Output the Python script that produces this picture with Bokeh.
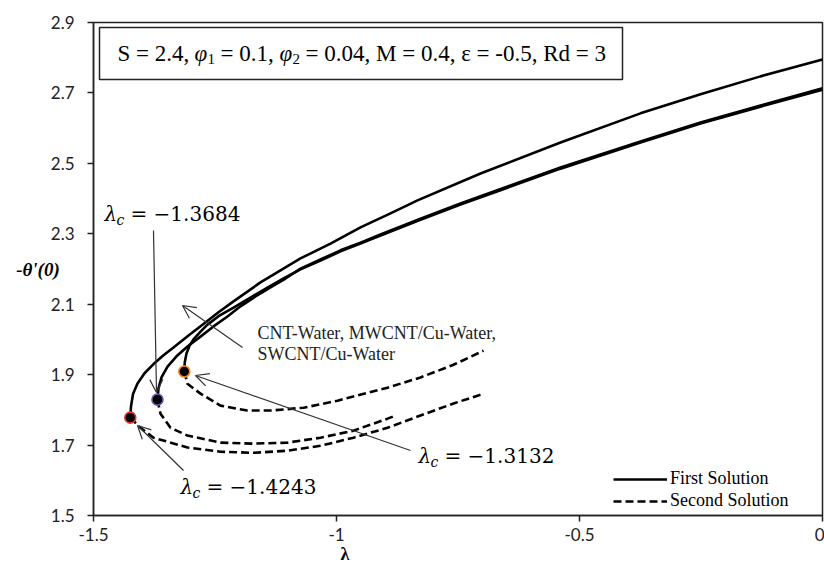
from bokeh.plotting import figure
from bokeh.models import (Range1d, FixedTicker, Label, Arrow, OpenHead,
                          BoxAnnotation, Legend, LegendItem, Title)
from bokeh.embed import file_html
from bokeh.resources import INLINE

# ---------------- data ----------------
x_ticks = [-1.5, -1.0, -0.5, 0.0]
x_tick_labels = ["-1.5", "-1", "-0.5", "0"]
y_ticks = [1.5, 1.7, 1.9, 2.1, 2.3, 2.5, 2.7, 2.9]
y_tick_labels = ["1.5", "1.7", "1.9", "2.1", "2.3", "2.5", "2.7", "2.9"]

# critical points
crit_lam = [-1.4243, -1.3684, -1.3132]
crit_val = [1.778, 1.829, 1.909]
crit_colors = ["#e63b2e", "#6b4fa0", "#f08a24"]

# first solutions (solid)
red_first_lam = [-1.4243, -1.4228, -1.4187, -1.4095, -1.3950, -1.3765, -1.3560,
                 -1.3354, -1.3045, -1.2737, -1.2428, -1.2119, -1.1564, -1.1152,
                 -1.0741, -1.0123, -0.9506, -0.8889, -0.8333, -0.7037, -0.5391,
                 -0.3745, -0.2510, -0.1276, 0.0]
red_first_val = [1.778, 1.810, 1.845, 1.875, 1.904, 1.930, 1.955, 1.977, 2.011,
                 2.044, 2.077, 2.108, 2.162, 2.196, 2.230, 2.272, 2.318, 2.358,
                 2.395, 2.471, 2.559, 2.642, 2.696, 2.747, 2.795]

purple_first_lam = [-1.3684, -1.3663, -1.3601, -1.3477, -1.3292, -1.3066, -1.2798,
                    -1.2531, -1.2243, -1.1975, -1.1667, -1.1358, -1.1049, -1.0741,
                    -1.0329, -0.9918, -0.9506, -0.9095, -0.8272, -0.7449, -0.6420,
                    -0.5391, -0.3745, -0.2510, -0.1276, 0.0]
purple_first_val = [1.829, 1.861, 1.892, 1.923, 1.952, 1.980, 2.008, 2.037, 2.065,
                    2.094, 2.122, 2.148, 2.173, 2.201, 2.227, 2.253, 2.275, 2.298,
                    2.343, 2.386, 2.437, 2.488, 2.562, 2.616, 2.664, 2.713]

orange_first_lam = [-1.3132, -1.3122, -1.3087, -1.3025, -1.2943, -1.2798, -1.2654,
                    -1.2428, -1.2119, -1.1770, -1.1420, -1.1070, -1.0741, -1.0329,
                    -0.9918, -0.9506, -0.9095, -0.8272, -0.7449, -0.6420, -0.5391,
                    -0.3745, -0.2510, -0.1276, 0.0]
orange_first_val = [1.909, 1.935, 1.960, 1.982, 2.000, 2.022, 2.042, 2.066, 2.090,
                    2.119, 2.147, 2.175, 2.199, 2.224, 2.250, 2.272, 2.295, 2.340,
                    2.383, 2.434, 2.485, 2.559, 2.613, 2.661, 2.709]

# second solutions (dashed)
red_second_lam = [-1.4243, -1.4033, -1.3765, -1.3066, -1.2387, -1.1708, -1.1008,
                  -1.0329, -0.9650, -0.8951, -0.8272, -0.7593, -0.6975]
red_second_val = [1.778, 1.749, 1.721, 1.693, 1.681, 1.678, 1.684, 1.698, 1.721,
                  1.749, 1.784, 1.818, 1.846]

purple_second_lam = [-1.3684, -1.3621, -1.3416, -1.3066, -1.2387, -1.1708, -1.1008,
                     -1.0329, -0.9650, -0.8951, -0.880]
purple_second_val = [1.829, 1.789, 1.749, 1.727, 1.707, 1.704, 1.707, 1.721, 1.741,
                     1.775, 1.783]

orange_second_lam = [-1.3132, -1.3066, -1.2798, -1.2387, -1.1831, -1.1358, -1.0679,
                     -0.9979, -0.8951, -0.8272, -0.7593, -0.6975]
orange_second_val = [1.909, 1.874, 1.846, 1.812, 1.798, 1.798, 1.806, 1.826, 1.863,
                     1.892, 1.928, 1.968]

# ---------------- figure ----------------
W, H = 824, 562
L, R, T, B = 93, 2, 22, 47
X0, X1 = -1.5, 0.0
Y0, Y1 = 1.5, 2.9

p = figure(width=W, height=H, output_backend="svg", toolbar_location=None,
           x_range=Range1d(X0, X1), y_range=Range1d(Y0, Y1),
           min_border_left=L, min_border_right=R, min_border_top=T,
           min_border_bottom=B)
p.background_fill_color = "white"
p.border_fill_color = "white"
p.grid.visible = False
p.outline_line_color = "#222222"
p.outline_line_width = 1.5

FW = W - L - R
FH = H - T - B


def lx(px):
    return X0 + (px - L) / FW * (X1 - X0)


def ly(py):
    return Y1 - (py - T) / FH * (Y1 - Y0)


tick_font = "Lato"
for ax, ticks, labels in ((p.xaxis[0], x_ticks, x_tick_labels),
                          (p.yaxis[0], y_ticks, y_tick_labels)):
    ax.ticker = FixedTicker(ticks=ticks)
    ax.major_label_overrides = {t: l for t, l in zip(ticks, labels)}
    ax.minor_tick_line_color = None
    ax.major_tick_in = 0
    ax.major_tick_out = 6
    ax.major_tick_line_color = "#222222"
    ax.major_tick_line_width = 1.5
    ax.axis_line_color = "#222222"
    ax.axis_line_width = 1.5
    ax.major_label_text_font = tick_font
    ax.major_label_text_font_size = "17px"
    ax.major_label_text_color = "#222222"
p.yaxis[0].major_label_standoff = 13
p.xaxis[0].major_label_standoff = 6

# y axis title, horizontal
p.yaxis[0].axis_label = "-\u03b8'(0)"
p.yaxis[0].axis_label_orientation = "horizontal"
p.yaxis[0].axis_label_text_font = "Liberation Serif"
p.yaxis[0].axis_label_text_font_style = "bold italic"
p.yaxis[0].axis_label_text_font_size = "19px"
p.yaxis[0].axis_label_text_color = "black"
p.yaxis[0].axis_label_standoff = -12

# x axis title (left of centre, as in the reference)
p.add_layout(Title(text="\u03bb", align="left", offset=247, standoff=-4,
                   text_font="Liberation Serif", text_font_style="bold",
                   text_font_size="18px", text_color="black"), "below")

LW = 2.6
DASH = "8 4"
solid_r = []
dash_r = []
for xs, ys in ((red_first_lam, red_first_val), (purple_first_lam, purple_first_val),
               (orange_first_lam, orange_first_val)):
    solid_r.append(p.line(xs, ys, line_color="black", line_width=LW,
                          line_join="round"))
for xs, ys in ((red_second_lam, red_second_val), (purple_second_lam, purple_second_val),
               (orange_second_lam, orange_second_val)):
    dash_r.append(p.line(xs, ys, line_color="black", line_width=LW, line_dash=DASH,
                         line_join="round"))

p.scatter(crit_lam, crit_val, size=11, fill_color="black", line_color=crit_colors,
          line_width=1.6)

# legend
legend = Legend(items=[LegendItem(label="First Solution", renderers=[solid_r[0]]),
                       LegendItem(label="Second Solution", renderers=[dash_r[0]])],
                location=(520, 4), padding=0, margin=0, spacing=1,
                glyph_width=54, glyph_height=20, label_height=20,
                label_standoff=3, border_line_color=None,
                background_fill_alpha=0,
                label_text_font="Liberation Serif", label_text_font_size="18px",
                label_text_color="black")
p.add_layout(legend, "center")

# parameter box
p.add_layout(BoxAnnotation(left=lx(99), right=lx(622), top=ly(27), bottom=ly(79),
                           fill_color="white", fill_alpha=1,
                           line_color="#222222", line_alpha=1, line_width=1.5))


def box_text(px, text, size="23px", style="normal", dy=0):
    p.add_layout(Label(x=lx(px), y=ly(53 + dy), text=text,
                       text_font="Liberation Serif", text_font_style=style,
                       text_font_size=size, text_baseline="middle",
                       text_color="black"))


box_text(117, "S = 2.4,")
box_text(194, "\u03c6", style="italic")
box_text(207, "1", size="15px", dy=5)
box_text(220, "= 0.1,")
box_text(279, "\u03c6", style="italic")
box_text(292, "2", size="15px", dy=5)
box_text(305, "= 0.04, M = 0.4, \u03b5 = -0.5, Rd = 3")


def lam_label(px, py, num):
    p.add_layout(Label(x=lx(px), y=ly(py), text="\u03bb", text_font="DejaVu Serif",
                       text_font_style="italic", text_font_size="20px",
                       text_baseline="middle", text_color="black"))
    p.add_layout(Label(x=lx(px + 12), y=ly(py + 6), text="c", text_font="DejaVu Serif",
                       text_font_style="italic", text_font_size="14px",
                       text_baseline="middle", text_color="black"))
    p.add_layout(Label(x=lx(px + 26), y=ly(py), text="= \u2212" + num,
                       text_font="DejaVu Serif", text_font_size="20px",
                       text_baseline="middle", text_color="black"))


lam_label(104, 213, "1.3684")
lam_label(418, 455, "1.3132")
lam_label(180, 486, "1.4243")

p.add_layout(Label(x=lx(257), y=ly(332), text="CNT-Water, MWCNT/Cu-Water,",
                   text_font="Liberation Serif", text_font_size="18px",
                   text_baseline="middle", text_color="#222222"))
p.add_layout(Label(x=lx(257), y=ly(353), text="SWCNT/Cu-Water",
                   text_font="Liberation Serif", text_font_size="18px",
                   text_baseline="middle", text_color="#222222"))

# pointer arrows
for (sx, sy, ex, ey) in ((153, 230, 156, 392), (242, 347, 182, 305),
                         (410, 450, 195, 375), (183, 470, 137, 425)):
    p.add_layout(Arrow(end=OpenHead(size=13, line_color="#333333", line_width=1.2),
                       x_start=lx(sx), y_start=ly(sy), x_end=lx(ex), y_end=ly(ey),
                       line_color="#333333", line_width=1.2))

open("out.html", "w").write(file_html(p, INLINE))
